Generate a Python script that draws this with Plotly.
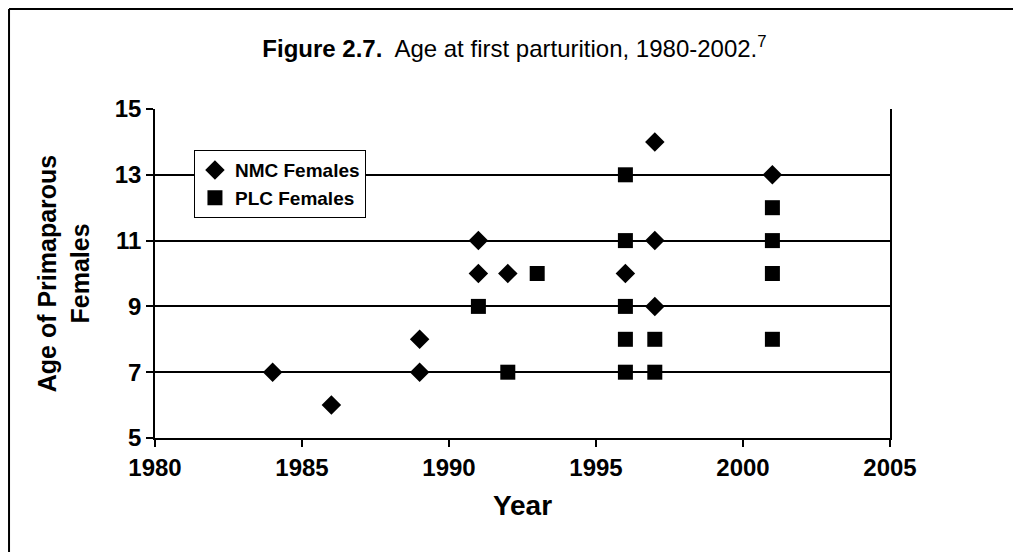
import plotly.graph_objects as go

# NMC females (diamonds)
nmc_year = [1984, 1986, 1989, 1989, 1991, 1991, 1992, 1996, 1997, 1997, 1997, 2001]
nmc_age = [7, 6, 8, 7, 11, 10, 10, 10, 14, 11, 9, 13]

# PLC females (squares)
plc_year = [1991, 1992, 1993, 1996, 1996, 1996, 1996, 1996, 1997, 1997, 2001, 2001, 2001, 2001]
plc_age = [9, 7, 10, 13, 11, 9, 8, 7, 8, 7, 12, 11, 10, 8]

x_ticks = [1980, 1985, 1990, 1995, 2000, 2005]
y_ticks = [5, 7, 9, 11, 13, 15]

FONT = "Liberation Sans, Arial, sans-serif"

fig = go.Figure()
fig.add_trace(go.Scatter(
    x=nmc_year, y=nmc_age, mode="markers", name="NMC Females",
    marker=dict(symbol="diamond", size=15, color="black"),
    cliponaxis=False,
))
fig.add_trace(go.Scatter(
    x=plc_year, y=plc_age, mode="markers", name="PLC Females",
    marker=dict(symbol="square", size=15, color="black"),
    cliponaxis=False,
))

# page body adds an 8px margin, so the figure is 8px smaller than the window
fig.update_layout(
    width=1013, height=544,
    margin=dict(l=147, r=131, t=101, b=114),
    paper_bgcolor="white", plot_bgcolor="white",
    font=dict(family=FONT, color="black"),
    title=dict(
        text="<b>Figure 2.7.</b>  Age at first parturition, 1980-2002.<sup>7</sup>",
        x=0.5, xanchor="center", y=0.925, yanchor="middle",
        font=dict(size=24, color="black"),
    ),
    legend=dict(
        x=0.053, y=0.875, xanchor="left", yanchor="top",
        bgcolor="white", bordercolor="black", borderwidth=1,
        font=dict(size=19, color="black", weight="bold"),
        tracegroupgap=0, itemwidth=30,
    ),
    xaxis=dict(
        range=[1980, 2005], tickvals=x_ticks,
        showgrid=False, zeroline=False,
        showline=True, linecolor="black", linewidth=1.5,
        ticks="outside", ticklen=7, tickcolor="black", tickwidth=1.5,
        tickfont=dict(size=24, color="black", weight="bold"),
        title=dict(text="Year", font=dict(size=28, color="black", weight="bold"),
                   standoff=16),
    ),
    yaxis=dict(
        range=[5, 15], tickvals=y_ticks,
        showgrid=True, gridcolor="black", gridwidth=1.5,
        zeroline=False,
        showline=True, linecolor="black", linewidth=1.5, mirror=True,
        ticks="outside", ticklen=7, tickcolor="black", tickwidth=1.5,
        tickfont=dict(size=24, color="black", weight="bold"),
        title=dict(text="Age of Primaparous<br>Females",
                   font=dict(size=25, color="black", weight="bold"), standoff=18),
    ),
)

# outer frame of the scanned figure (left and top edges), at the figure edge
fig.add_shape(type="line", xref="paper", yref="paper",
              x0=-0.1986, x1=-0.1986, y0=-0.35, y1=1.304,
              line=dict(color="black", width=2))
fig.add_shape(type="line", xref="paper", yref="paper",
              x0=-0.1986, x1=1.19, y0=1.304, y1=1.304,
              line=dict(color="black", width=2))

fig.write_html("out.html")
